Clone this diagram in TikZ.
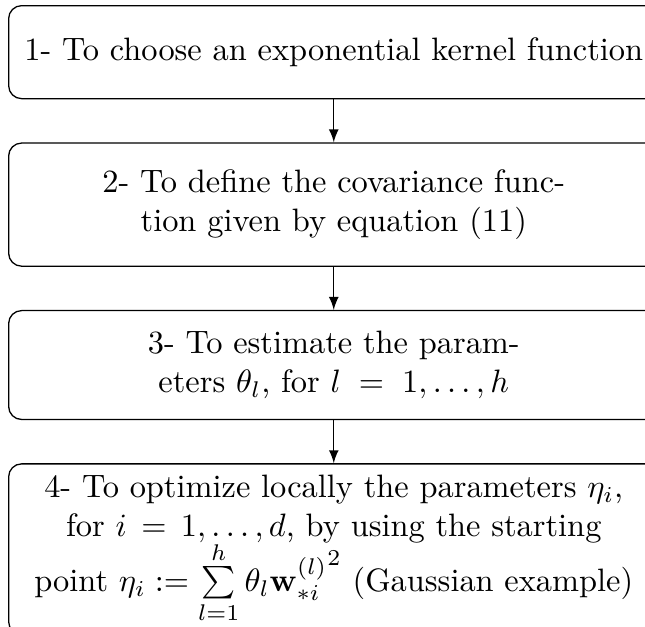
\documentclass[tikz,border=0pt]{standalone}
\usepackage{amsmath,amssymb}
\usepackage{tikz}
\usetikzlibrary{positioning}

\tikzset{
  stepbox/.style={draw, rounded corners=4pt, text width=194pt, align=flush center},
  flow/.style={-latex}
}

\begin{document}
\begin{tikzpicture}[x=0.3086pt,y=-0.3086pt,node distance=13.3pt]
\useasboundingbox (0,0) rectangle (645,626);
\node[stepbox,anchor=north west,minimum height=28.7pt] (s1) at (8,5)
  {1- To choose an exponential kernel function};
\node[stepbox,below=of s1,minimum height=38pt] (s2)
  {2- To define the covariance func-\\tion given by equation (11)};
\node[stepbox,below=of s2,minimum height=33.6pt] (s3)
  {3- To estimate the param-\\eters $\theta_l$, for $l\mskip5mu=\mskip5mu1,\ldots,h$};
\node[stepbox,below=of s3] (s4)
  {4- To optimize locally the parameters $\eta_i$,\\
   for $i\mskip3mu=\mskip3mu1,\ldots,d$, by using the starting\\[1.5pt]
   point $\eta_i := \smash[t]{\sum\limits_{l=1}^{h}}\,\theta_l{\mathbf{w}_{*i}^{(l)}}^2$ (Gaussian example)};
\draw[flow] (s1) -- (s2);
\draw[flow] (s2) -- (s3);
\draw[flow] (s3) -- (s4);
\end{tikzpicture}
\end{document}
